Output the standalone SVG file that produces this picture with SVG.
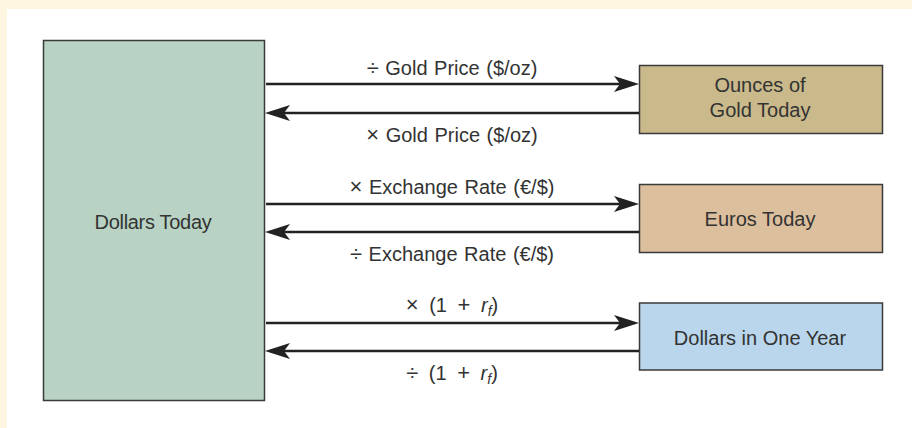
<svg xmlns="http://www.w3.org/2000/svg" width="912" height="428" viewBox="0 0 912 428">
<defs>
<style>
.box{stroke:#3a3a3a;stroke-width:1.5}
.t{font-family:"Liberation Sans",Arial,sans-serif;font-size:20px;fill:#333;text-anchor:middle}
.lbl{word-spacing:1px}
.op{font-size:22px}
.conn{stroke:#222;stroke-width:2.5;fill:none;marker-end:url(#ah)}
</style>
<marker id="ah" viewBox="0 0 25 16" markerWidth="25" markerHeight="16" refX="6" refY="8" orient="auto" markerUnits="userSpaceOnUse">
<path d="M0,0 L25,8 L0,16 L6,8 Z" fill="#222"/>
</marker>
</defs>
<rect x="0" y="0" width="912" height="428" fill="#fdf5df"/>
<rect x="7" y="9" width="905" height="419" fill="#ffffff"/>

<g id="dollars-today">
<rect class="box" x="43.5" y="40.5" width="221" height="360" fill="#b8d3c4"/>
<text class="t" x="153" y="229" letter-spacing="-0.3">Dollars Today</text>
</g>
<g id="gold-today">
<rect class="box" x="639.5" y="65.5" width="243" height="68" fill="#c9b98b"/>
<text class="t" x="760" y="92">Ounces of</text>
<text class="t" x="760" y="117">Gold Today</text>
</g>
<g id="euros-today">
<rect class="box" x="639.5" y="184.5" width="243" height="68" fill="#dcbf9d"/>
<text class="t" x="760" y="226">Euros Today</text>
</g>
<g id="dollars-one-year">
<rect class="box" x="639.5" y="303" width="243" height="67" fill="#b9d6ec"/>
<text class="t" x="760" y="345">Dollars in One Year</text>
</g>

<g id="connectors">
<line class="conn" x1="266" y1="84" x2="620" y2="84"/>
<line class="conn" x1="639" y1="113" x2="284" y2="113"/>
<line class="conn" x1="266" y1="204" x2="620" y2="204"/>
<line class="conn" x1="639" y1="232" x2="284" y2="232"/>
<line class="conn" x1="266" y1="323" x2="620" y2="323"/>
<line class="conn" x1="639" y1="351" x2="284" y2="351"/>
<text class="t lbl" x="452" y="75"><tspan class="op">÷</tspan> Gold Price ($/oz)</text>
<text class="t lbl" x="452" y="142"><tspan class="op">×</tspan> Gold Price ($/oz)</text>
<text class="t lbl" x="452" y="194"><tspan class="op">×</tspan> Exchange Rate (€/$)</text>
<text class="t lbl" x="452" y="261"><tspan class="op">÷</tspan> Exchange Rate (€/$)</text>
<text class="t" x="452" y="312" style="word-spacing:5px"><tspan class="op">×</tspan> (1 <tspan class="op">+</tspan> <tspan font-style="italic">r</tspan><tspan font-style="italic" font-size="14" dy="4">f</tspan><tspan dy="-4">)</tspan></text>
<text class="t" x="452" y="380" style="word-spacing:5px"><tspan class="op">÷</tspan> (1 <tspan class="op">+</tspan> <tspan font-style="italic">r</tspan><tspan font-style="italic" font-size="14" dy="4">f</tspan><tspan dy="-4">)</tspan></text>
</g>
</svg>
